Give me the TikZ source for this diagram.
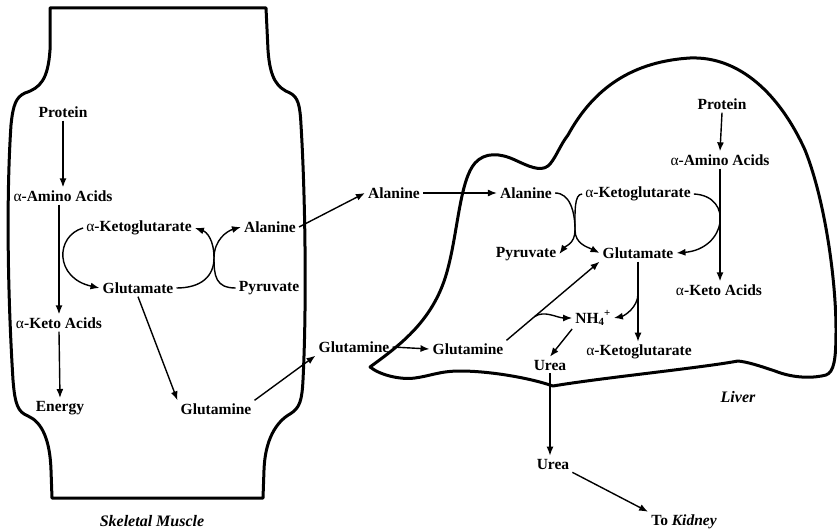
\documentclass[tikz,border=0pt]{standalone}
\usepackage{fontspec}
\setmainfont{Liberation Serif}
\usetikzlibrary{arrows.meta,calc}

\newcommand{\alp}{{\mdseries α}}

\begin{document}
\begin{tikzpicture}[x=1pt,y=-1pt,>={Latex[length=9pt,width=7pt]}]
  \tikzstyle{chem}=[font=\fontsize{15.5}{18}\selectfont\bfseries,inner sep=3pt]
  \tikzstyle{organ}=[font=\fontsize{16}{19}\selectfont\bfseries\itshape,inner sep=2pt]
  \tikzstyle{wall}=[line width=3pt,line join=round]
  \tikzstyle{flow}=[->,line width=1.4pt]
  \useasboundingbox (0,0) rectangle (837,532);

  % skeletal muscle outline
  \draw[wall] (50,8) -- (266,8) -- (268,50)
    .. controls (270,80) and (278,88) .. (290,93)
    .. controls (298,97) and (300,105) .. (301,125)
    .. controls (305,190) and (307,300) .. (303,380)
    .. controls (302,400) and (300,408) .. (290,414)
    .. controls (276,422) and (265,440) .. (264,470) -- (263,498)
    -- (52,498) -- (51,470)
    .. controls (50,440) and (42,422) .. (28,416)
    .. controls (18,412) and (15,405) .. (13,380)
    .. controls (8,300) and (6,200) .. (11,125)
    .. controls (13,105) and (16,97) .. (25,93)
    .. controls (40,88) and (48,80) .. (50,50) -- cycle;

  % liver outline
  \draw[wall] (370,367)
    .. controls (400,345) and (435,320) .. (448,268)
    .. controls (458,230) and (460,180) .. (475,163)
    .. controls (485,152) and (500,153) .. (515,160)
    .. controls (528,166) and (540,172) .. (548,166)
    .. controls (555,160) and (560,145) .. (568,135)
    .. controls (590,95) and (625,62) .. (690,58)
    .. controls (740,56) and (780,95) .. (805,150)
    .. controls (825,200) and (836,280) .. (836,330)
    .. controls (836,360) and (834,372) .. (826,375)
    .. controls (815,378) and (795,379) .. (775,371)
    .. controls (760,366) and (748,362) .. (738,361)
    .. controls (700,368) and (600,378) .. (553,386)
    .. controls (530,378) and (490,371) .. (460,371)
    .. controls (440,371) and (430,376) .. (415,378)
    .. controls (400,380) and (380,375) .. cycle;

  % muscle
  \node[chem] (mProt) at (63,112) {Protein};
  \node[chem] (mAmino) at (63,196) {\alp-Amino Acids};
  \node[chem] (mKG) at (139,228) {\alp-Ketoglutarate};
  \node[chem] (mAla) at (270,227) {Alanine};
  \node[chem] (mGlu) at (138,288) {Glutamate};
  \node[chem] (mPyr) at (269,288) {Pyruvate};
  \node[chem] (mKeto) at (59,323) {\alp-Keto Acids};
  \node[chem] (mEnergy) at (60,408) {Energy};
  \node[chem] (mGln) at (216,409) {Glutamine};
  \node[organ] (muscle) at (152,521) {Skeletal Muscle};
  \coordinate (mX) at (214,258);

  % blood
  \node[chem] (xAla) at (394,193) {Alanine};
  \node[chem] (xGln) at (354,347) {Glutamine};

  % liver
  \node[chem] (lAla) at (526,193) {Alanine};
  \node[chem] (lKG) at (638,194) {\alp-Ketoglutarate};
  \node[chem] (lProt) at (722,104) {Protein};
  \node[chem] (lAmino) at (720,160) {\alp-Amino Acids};
  \node[chem] (lPyr) at (526,254) {Pyruvate};
  \node[chem] (lGlu) at (638,253) {Glutamate};
  \node[chem] (lKeto) at (719,290) {\alp-Keto Acids};
  \node[chem] (lGln) at (468,349) {Glutamine};
  \node[chem] (lNH) at (593,318) {NH\textsubscript{4}\kern-0.5pt\raisebox{2pt}{\textsuperscript{+}}};
  \node[chem] (lKG2) at (639,352) {\alp-Ketoglutarate};
  \node[chem] (lUrea) at (550,365) {Urea};
  \node[organ] (liver) at (738,397) {Liver};
  \node[chem] (oUrea) at (553,464) {Urea};
  \node[chem] (kidney) at (684,522) {To \textit{Kidney}};
  \coordinate (lX) at (575,230);

  % muscle pathways
  \draw[flow] (mProt.south) -- (mAmino.north);
  \draw[flow] (mAmino.south -| mKeto.north) -- (mKeto.north);
  \draw[flow] (mKeto.south) -- (mEnergy.north);
  \draw[flow] (mKG.west) .. controls +(-28,8) and +(-45,-10) .. (mGlu.west);
  \draw[flow] (mGlu.east) .. controls +(25,0) and +(0,18) .. (mX)
    .. controls +(0,-18) and +(-14,4) .. (mAla.west);
  \draw[flow] (mPyr.west) .. controls +(-20,0) and +(0,18) .. (mX)
    .. controls +(0,-18) and +(12,4) .. (mKG.east);
  \draw[flow] (mGlu.south) -- (mGln.north west);

  % transport
  \draw[flow] (mAla.east) -- (xAla.west);
  \draw[flow] (xAla.east) -- (lAla.west);
  \draw[flow] (mGln.north east) -- (xGln.south west);
  \draw[flow] (xGln.east) -- (lGln.west);

  % liver pathways
  \draw[flow] (lProt.south) -- (lAmino.north);
  \draw[flow] (lAmino.south) -- (lAmino.south |- lKeto.north);
  \draw[flow] (lAla.east) .. controls +(15,0) and +(0,-18) .. (lX)
    .. controls +(0,14) and +(6,-8) .. (lPyr.east);
  \draw[flow] (lKG.west) .. controls +(-8,0) and +(0,-18) .. (lX)
    .. controls +(0,14) and +(-12,-6) .. (lGlu.west);
  \draw[flow] (lKG.east) .. controls +(40,2) and +(50,-4) .. (lGlu.east);
  \draw[flow] (lGlu.south) -- (lGlu.south |- lKG2.north);
  \coordinate (lBr) at ($(lGlu.south)!0.4!(lGlu.south |- lKG2.north)$);
  \draw[flow] (lBr) .. controls +(0,14) and +(10,-2) .. (lNH.east);
  \draw[flow] (lGln.north east) -- (lGlu.south west);
  \coordinate (gBr) at ($(lGln.north east)!0.3!(lGlu.south west)$);
  \draw[flow] (gBr) .. controls +(10,-7) and +(-15,0) .. (lNH.west);
  \draw[flow] (lNH.south west) -- (lUrea.north);
  \draw[flow] (lUrea.south) -- (lUrea.south |- oUrea.north);
  \draw[flow] (oUrea.south east) -- (kidney.north west);
\end{tikzpicture}
\end{document}
